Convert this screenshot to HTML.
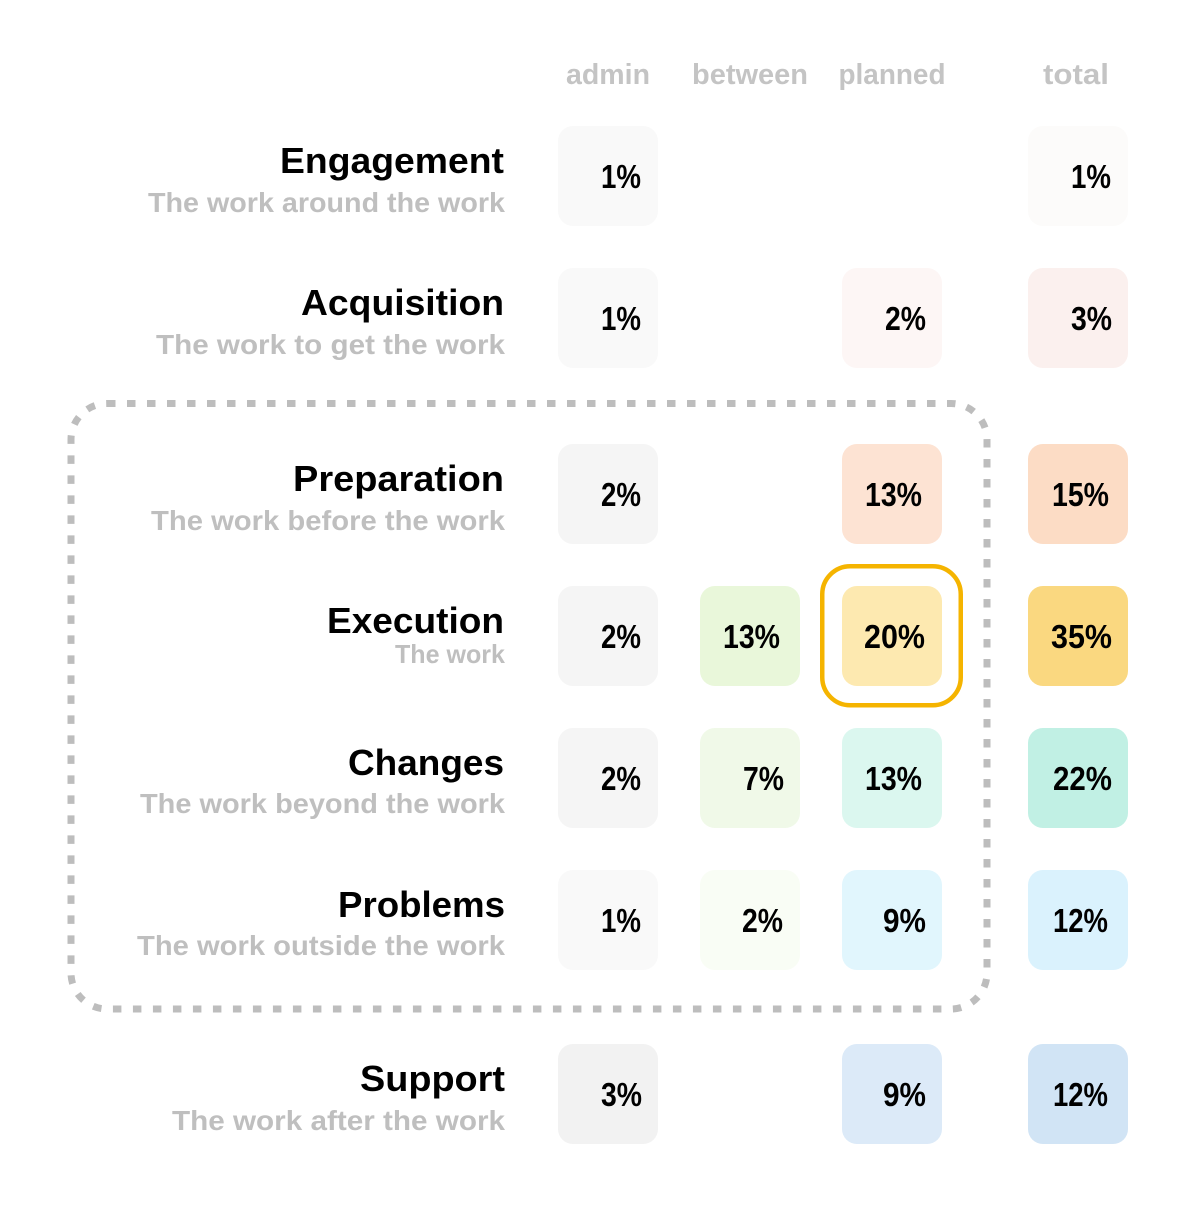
<!DOCTYPE html>
<html>
<head>
<meta charset="utf-8">
<style>
html,body{margin:0;padding:0;background:#fff;}
svg{display:block;}
text{font-family:"Liberation Sans",Arial,sans-serif;font-weight:bold;}
.h{fill:#c4c4c4;font-size:29px;text-anchor:middle;}
.t{fill:#000;font-size:36px;text-anchor:end;}
.s{fill:#bfbfbf;font-size:28px;text-anchor:end;}
.n{fill:#000;font-size:33px;text-anchor:end;}
</style>
</head>
<body>
<svg width="1200" height="1212" viewBox="0 0 1200 1212" xmlns="http://www.w3.org/2000/svg">
<rect width="1200" height="1212" fill="#fff"/>

<!-- headers -->
<text class="h" x="608" y="84" textLength="84" lengthAdjust="spacingAndGlyphs">admin</text>
<text class="h" x="750" y="84" textLength="116" lengthAdjust="spacingAndGlyphs">between</text>
<text class="h" x="892" y="84" textLength="107" lengthAdjust="spacingAndGlyphs">planned</text>
<text class="h" x="1076" y="84" textLength="66" lengthAdjust="spacingAndGlyphs">total</text>

<!-- dashed group -->
<rect x="71" y="403.5" width="916" height="605.5" rx="36" ry="36" fill="none" stroke="#bdbdbd" stroke-width="7" stroke-dasharray="8.5 11.5"/>

<!-- Row labels -->
<text class="t" x="504" y="173" textLength="224" lengthAdjust="spacingAndGlyphs">Engagement</text>
<text class="s" x="505" y="212" textLength="357" lengthAdjust="spacingAndGlyphs">The work around the work</text>

<text class="t" x="504" y="315" textLength="203" lengthAdjust="spacingAndGlyphs">Acquisition</text>
<text class="s" x="505" y="354" textLength="349" lengthAdjust="spacingAndGlyphs">The work to get the work</text>

<text class="t" x="504" y="491" textLength="211" lengthAdjust="spacingAndGlyphs">Preparation</text>
<text class="s" x="505" y="530" textLength="354" lengthAdjust="spacingAndGlyphs">The work before the work</text>

<text class="t" x="504" y="633" textLength="177" lengthAdjust="spacingAndGlyphs">Execution</text>
<text class="s" x="505" y="663" textLength="110" lengthAdjust="spacingAndGlyphs" style="font-size:26px">The work</text>

<text class="t" x="504" y="775" textLength="156" lengthAdjust="spacingAndGlyphs">Changes</text>
<text class="s" x="505" y="813" textLength="365" lengthAdjust="spacingAndGlyphs">The work beyond the work</text>

<text class="t" x="505" y="917" textLength="167" lengthAdjust="spacingAndGlyphs">Problems</text>
<text class="s" x="505" y="955" textLength="368" lengthAdjust="spacingAndGlyphs">The work outside the work</text>

<text class="t" x="505" y="1091" textLength="145" lengthAdjust="spacingAndGlyphs">Support</text>
<text class="s" x="505" y="1130" textLength="333" lengthAdjust="spacingAndGlyphs">The work after the work</text>

<!-- Engagement -->
<rect x="558" y="126" width="100" height="100" rx="15" fill="#f9f9f9"/>
<text class="n" x="641" y="188" textLength="40" lengthAdjust="spacingAndGlyphs">1%</text>
<rect x="1028" y="126" width="100" height="100" rx="15" fill="#fcfbfa"/>
<text class="n" x="1111" y="188" textLength="40" lengthAdjust="spacingAndGlyphs">1%</text>

<!-- Acquisition -->
<rect x="558" y="268" width="100" height="100" rx="15" fill="#f9f9f9"/>
<text class="n" x="641" y="330" textLength="40" lengthAdjust="spacingAndGlyphs">1%</text>
<rect x="842" y="268" width="100" height="100" rx="15" fill="#fdf6f5"/>
<text class="n" x="926" y="330" textLength="41" lengthAdjust="spacingAndGlyphs">2%</text>
<rect x="1028" y="268" width="100" height="100" rx="15" fill="#fbf0ee"/>
<text class="n" x="1112" y="330" textLength="41" lengthAdjust="spacingAndGlyphs">3%</text>

<!-- Preparation -->
<rect x="558" y="444" width="100" height="100" rx="15" fill="#f5f5f5"/>
<text class="n" x="641" y="506" textLength="40" lengthAdjust="spacingAndGlyphs">2%</text>
<rect x="842" y="444" width="100" height="100" rx="15" fill="#fde3d3"/>
<text class="n" x="922" y="506" textLength="57" lengthAdjust="spacingAndGlyphs">13%</text>
<rect x="1028" y="444" width="100" height="100" rx="15" fill="#fcdcc5"/>
<text class="n" x="1109" y="506" textLength="57" lengthAdjust="spacingAndGlyphs">15%</text>

<!-- Execution -->
<rect x="558" y="586" width="100" height="100" rx="15" fill="#f5f5f5"/>
<text class="n" x="641" y="648" textLength="40" lengthAdjust="spacingAndGlyphs">2%</text>
<rect x="700" y="586" width="100" height="100" rx="15" fill="#e9f7da"/>
<text class="n" x="780" y="648" textLength="57" lengthAdjust="spacingAndGlyphs">13%</text>
<rect x="842" y="586" width="100" height="100" rx="15" fill="#fde9b0"/>
<text class="n" x="925" y="648" textLength="61" lengthAdjust="spacingAndGlyphs">20%</text>
<rect x="1028" y="586" width="100" height="100" rx="15" fill="#fad880"/>
<text class="n" x="1112" y="648" textLength="61" lengthAdjust="spacingAndGlyphs">35%</text>
<rect x="822.25" y="566.25" width="138.5" height="139" rx="28" fill="none" stroke="#f5b400" stroke-width="4.5"/>

<!-- Changes -->
<rect x="558" y="728" width="100" height="100" rx="15" fill="#f5f5f5"/>
<text class="n" x="641" y="790" textLength="40" lengthAdjust="spacingAndGlyphs">2%</text>
<rect x="700" y="728" width="100" height="100" rx="15" fill="#f0f9e8"/>
<text class="n" x="784" y="790" textLength="41" lengthAdjust="spacingAndGlyphs">7%</text>
<rect x="842" y="728" width="100" height="100" rx="15" fill="#dbf7ef"/>
<text class="n" x="922" y="790" textLength="57" lengthAdjust="spacingAndGlyphs">13%</text>
<rect x="1028" y="728" width="100" height="100" rx="15" fill="#c1f0e4"/>
<text class="n" x="1112" y="790" textLength="59" lengthAdjust="spacingAndGlyphs">22%</text>

<!-- Problems -->
<rect x="558" y="870" width="100" height="100" rx="15" fill="#f9f9f9"/>
<text class="n" x="641" y="932" textLength="40" lengthAdjust="spacingAndGlyphs">1%</text>
<rect x="700" y="870" width="100" height="100" rx="15" fill="#f9fdf5"/>
<text class="n" x="783" y="932" textLength="41" lengthAdjust="spacingAndGlyphs">2%</text>
<rect x="842" y="870" width="100" height="100" rx="15" fill="#e1f6fd"/>
<text class="n" x="926" y="932" textLength="43" lengthAdjust="spacingAndGlyphs">9%</text>
<rect x="1028" y="870" width="100" height="100" rx="15" fill="#daf2fd"/>
<text class="n" x="1108" y="932" textLength="55" lengthAdjust="spacingAndGlyphs">12%</text>

<!-- Support -->
<rect x="558" y="1044" width="100" height="100" rx="15" fill="#f2f2f2"/>
<text class="n" x="642" y="1106" textLength="41" lengthAdjust="spacingAndGlyphs">3%</text>
<rect x="842" y="1044" width="100" height="100" rx="15" fill="#dceaf8"/>
<text class="n" x="926" y="1106" textLength="43" lengthAdjust="spacingAndGlyphs">9%</text>
<rect x="1028" y="1044" width="100" height="100" rx="15" fill="#d1e4f5"/>
<text class="n" x="1108" y="1106" textLength="55" lengthAdjust="spacingAndGlyphs">12%</text>
</svg>
</body>
</html>
